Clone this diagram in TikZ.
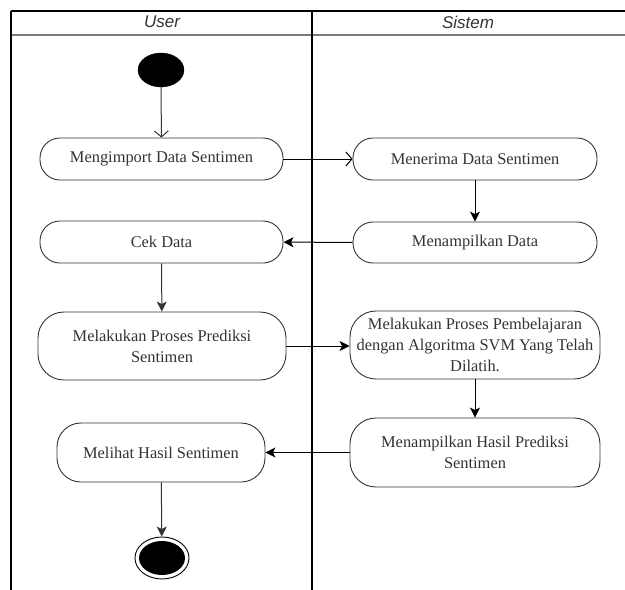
\documentclass[tikz,border=0pt]{standalone}
\usepackage{fontspec}
\setmainfont{Liberation Serif}
\newfontfamily\lanefont{Liberation Sans}
\usetikzlibrary{arrows.meta,shapes.geometric}
\definecolor{edgegray}{HTML}{333333}
\definecolor{headgray}{HTML}{7A7A7A}
\tikzset{
  act/.style={draw=edgegray, line width=0.9pt, rectangle, rounded corners=20pt,
    align=center, inner sep=0pt, text=edgegray,
    font=\fontsize{16.4}{21}\selectfont},
  lane/.style={draw=black, line width=1.2pt},
  flow/.style={draw=black, line width=1pt,
    -{Stealth[length=10pt,width=10pt,inset=2.5pt]}},
  openflow/.style={draw=edgegray, line width=1pt,
    -{Straight Barb[length=6pt,width=14pt]}},
  lanetitle/.style={font=\lanefont\itshape\fontsize{17}{20}\selectfont, text=edgegray},
}
\begin{document}
\begin{tikzpicture}[x=1pt,y=-1pt]
  \useasboundingbox (0,0) rectangle (625,590);

  % swimlane frame
  \draw[lane] (11,11) -- (625,11);
  \draw[draw=headgray, line width=1.8pt] (11,35) -- (625,35);
  \draw[lane] (11,11) -- (11,590);
  \draw[lane] (312,11) -- (312,590);
  \node[lanetitle] (userlane) at (162,22) {User};
  \node[lanetitle] (systemlane) at (468,22) {Sistem};

  % start node
  \node[ellipse, fill=black, draw=black, minimum width=46pt, minimum height=34pt, inner sep=0pt] (start) at (161,70) {};

  % activities
  \node[act, minimum width=243pt, minimum height=42pt] (import) at (161.5,159) {Mengimport Data Sentimen};
  \node[act, minimum width=244pt, minimum height=42pt] (receive) at (475,159) {Menerima Data Sentimen};
  \node[act, minimum width=244pt, minimum height=41pt] (show) at (475,242.5) {Menampilkan Data};
  \node[act, minimum width=243pt, minimum height=42pt] (check) at (161.5,242) {Cek Data};
  \node[act, minimum width=248pt, minimum height=68pt, rounded corners=26pt] (predict) at (162,346) {Melakukan Proses Prediksi\\Sentimen};
  \node[act, minimum width=250pt, minimum height=68pt, rounded corners=26pt] (learn) at (475,345) {Melakukan Proses Pembelajaran\\dengan Algoritma SVM Yang Telah\\Dilatih.};
  \node[act, minimum width=250pt, minimum height=69pt, rounded corners=26pt] (result) at (475,452.5) {Menampilkan Hasil Prediksi\\Sentimen};
  \node[act, minimum width=208pt, minimum height=59pt, rounded corners=24pt] (view) at (161,452.5) {Melihat Hasil Sentimen};

  % end node
  \node[ellipse, draw=black, line width=0.9pt, fill=white, minimum width=54pt, minimum height=42pt, inner sep=0pt] (finish) at (162,558) {};
  \node[ellipse, fill=black, minimum width=46pt, minimum height=34pt, inner sep=0pt] (finishdot) at (finish.center) {};

  % flows
  \draw[openflow] (start) -- (import);
  \draw[openflow, draw=black] (import) -- (receive);
  \draw[flow] (receive) -- (show);
  \draw[flow] (show) -- (check);
  \draw[flow, draw=edgegray] (check) -- (predict);
  \draw[flow] (predict) -- (learn.west |- predict.east);
  \draw[flow] (learn.south -| result.north) -- (result);
  \draw[flow] (result) -- (view);
  \draw[flow, draw=edgegray] (view) -- (finish);
\end{tikzpicture}
\end{document}
